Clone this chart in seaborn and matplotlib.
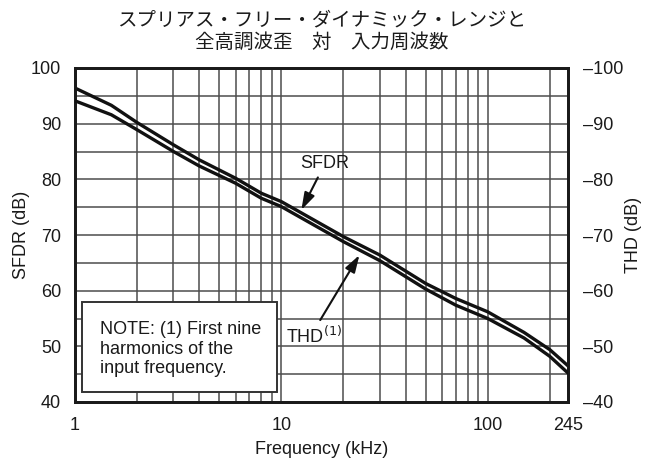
import matplotlib
matplotlib.use("Agg")
import matplotlib.pyplot as plt
from matplotlib.patches import Rectangle
import seaborn as sns
import pandas as pd
import numpy as np

# Input frequency (kHz) and measured dynamic performance
freq_khz = [1, 1.5, 2, 3, 4, 6, 8, 10, 20, 30, 50, 70, 100, 150, 200, 245]
sfdr_db = [96.4, 93.3, 90.2, 86.2, 83.5, 80.2, 77.5, 76.0, 69.7, 66.4, 61.3, 58.6, 56.2, 52.5, 49.4, 46.5]
thd_db = [-94.1, -91.6, -88.9, -85.0, -82.4, -79.3, -76.6, -75.1, -68.8, -65.4, -60.3, -57.4, -55.0, -51.5, -48.2, -45.2]

x_ticks = [1, 10, 100, 245]
x_tick_labels = ["1", "10", "100", "245"]
sfdr_ticks = [40, 50, 60, 70, 80, 90, 100]
thd_ticks = [-40, -50, -60, -70, -80, -90, -100]

title_lines = ["スプリアス・フリー・ダイナミック・レンジと", "全高調波歪　対　入力周波数"]
note_text = "NOTE: (1) First nine\nharmonics of the\ninput frequency."

sns.set_theme(style="white")
plt.rcParams["font.family"] = ["Liberation Sans", "DejaVu Sans"]

FS = 13
INK = "#1a1a1a"

df = pd.DataFrame({"freq": freq_khz, "sfdr": sfdr_db, "thd": thd_db})

fig = plt.figure(figsize=(6.6, 4.66), dpi=100)
ax = fig.add_axes([75 / 660, 1 - 402 / 466, (568 - 75) / 660, (402 - 68) / 466])
ax2 = ax.twinx()

ax.set_xscale("log")
ax.set_xlim(1, 245)
ax.set_ylim(40, 100)
ax2.set_ylim(-40, -100)

# grid: decades 1..10, 10..100, plus 200
grid_color = "#4d4d4d"
vlines = [f * d for d in (1, 10) for f in range(2, 10)] + [10, 100, 200]
for v in vlines:
    ax.axvline(v, color=grid_color, lw=1.1, zorder=1)
for h in np.arange(45, 100, 5):
    ax.axhline(h, color=grid_color, lw=1.1, zorder=1)

line_kw = dict(color="#111111", lw=2.4, zorder=3)
sns.lineplot(data=df, x="freq", y="sfdr", ax=ax, **line_kw)
sns.lineplot(data=df, x="freq", y="thd", ax=ax2, **line_kw)

for a in (ax, ax2):
    for s in a.spines.values():
        s.set_color(INK)
        s.set_linewidth(2.0)
    a.tick_params(length=0, labelsize=FS, colors=INK)

ax.set_xticks(x_ticks)
ax.set_xticklabels(x_tick_labels)
ax.xaxis.set_minor_locator(matplotlib.ticker.NullLocator())
ax.tick_params(axis="x", pad=11)
ax.set_yticks(sfdr_ticks)
ax.tick_params(axis="y", pad=10)
ax2.set_yticks(thd_ticks)
ax2.set_yticklabels(["\u2013" + str(abs(t)) for t in thd_ticks])
ax2.tick_params(axis="y", pad=11)

ax.set_xlabel("Frequency (kHz)", fontsize=FS, color=INK)
ax.set_ylabel("SFDR (dB)", fontsize=FS, color=INK)
ax2.set_ylabel("THD (dB)", fontsize=FS, color=INK)
ax.xaxis.set_label_coords(0.5, (402 - 450) / 334)
ax.yaxis.set_label_coords((22 - 75) / 493, 0.5)
ax2.yaxis.set_label_coords((633 - 75) / 493, 0.5)
for lab in (ax.xaxis.label, ax.yaxis.label, ax2.yaxis.label):
    lab.set_verticalalignment("center")
    lab.set_horizontalalignment("center")

# curve labels with arrows
arrow = dict(arrowstyle="-|>,head_length=0.8,head_width=0.25", color="#111111", lw=1.5,
             shrinkA=2, shrinkB=0)
ax.annotate("SFDR", xy=(12.5, 74.5), xytext=(16.3, 82.9), fontsize=FS, ha="center",
            va="center", color=INK, arrowprops=arrow, zorder=5)
ax.annotate("THD$^{(1)}$", xy=(23.9, 66.4), xytext=(14.4, 51.8), fontsize=FS, ha="center",
            va="center", color=INK, arrowprops=dict(arrow, relpos=(0.55, 1.0)), zorder=5)

# footnote box
ax.add_patch(Rectangle((7 / 493, 10 / 334), 195 / 493, 90 / 334, transform=ax.transAxes,
                       fc="white", ec="#333333", lw=1.4, zorder=6))
ax.text(25 / 493, 53 / 334, note_text, transform=ax.transAxes, fontsize=FS, va="center",
        ha="left", color=INK, linespacing=1.18, zorder=7)

for i, line in enumerate(title_lines):
    fig.text(321.5 / 660, 1 - (20 + 22 * i) / 466, line, ha="center", va="center",
             fontsize=14, family=["Noto Sans CJK JP", "DejaVu Sans"], color=INK)

fig.savefig("out.png", dpi=100)
